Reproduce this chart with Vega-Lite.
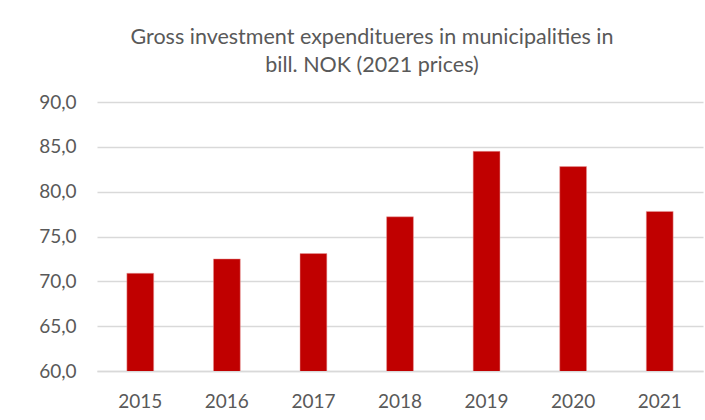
{
  "$schema": "https://vega.github.io/schema/vega-lite/v6.json",
  "autosize": "none",
  "width": 606,
  "height": 269,
  "padding": {"left": 97, "top": 102, "right": 2, "bottom": 49},
  "background": "white",
  "title": {
    "text": ["Gross investment expenditueres in municipalities in", "bill. NOK (2021 prices)"],
    "font": "Lato",
    "fontSize": 21.5,
    "fontWeight": "normal",
    "color": "#595959",
    "lineHeight": 28,
    "anchor": "middle",
    "dx": -28,
    "offset": 17
  },
  "data": {
    "values": [
      {"year": "2015", "value": 70.9},
      {"year": "2016", "value": 72.5},
      {"year": "2017", "value": 73.1},
      {"year": "2018", "value": 77.2},
      {"year": "2019", "value": 84.5},
      {"year": "2020", "value": 82.8},
      {"year": "2021", "value": 77.8}
    ]
  },
  "mark": {"type": "bar", "color": "#C00000", "stroke": "#E8A0A0", "strokeWidth": 0.5, "clip": true},
  "encoding": {
    "x": {
      "field": "year",
      "type": "nominal",
      "scale": {"paddingInner": 0.69, "paddingOuter": 0.345},
      "axis": {
        "title": null,
        "labelAngle": 0,
        "labelFont": "Lato",
        "labelFontSize": 19,
        "labelColor": "#595959",
        "labelPadding": 21,
        "ticks": false,
        "domainColor": "#d9d9d9",
        "domainWidth": 1.5
      }
    },
    "y": {
      "field": "value",
      "type": "quantitative",
      "scale": {"domain": [60, 90], "zero": false},
      "axis": {
        "title": null,
        "values": [60, 65, 70, 75, 80, 85, 90],
        "labelExpr": "replace(format(datum.value, '.1f'), '.', ',')",
        "labelFont": "Lato",
        "labelFontSize": 19,
        "labelColor": "#595959",
        "labelPadding": 21,
        "ticks": false,
        "domain": false,
        "grid": true,
        "gridColor": "#d9d9d9",
        "gridWidth": 1.5
      }
    }
  },
  "config": {"view": {"stroke": null}}
}
